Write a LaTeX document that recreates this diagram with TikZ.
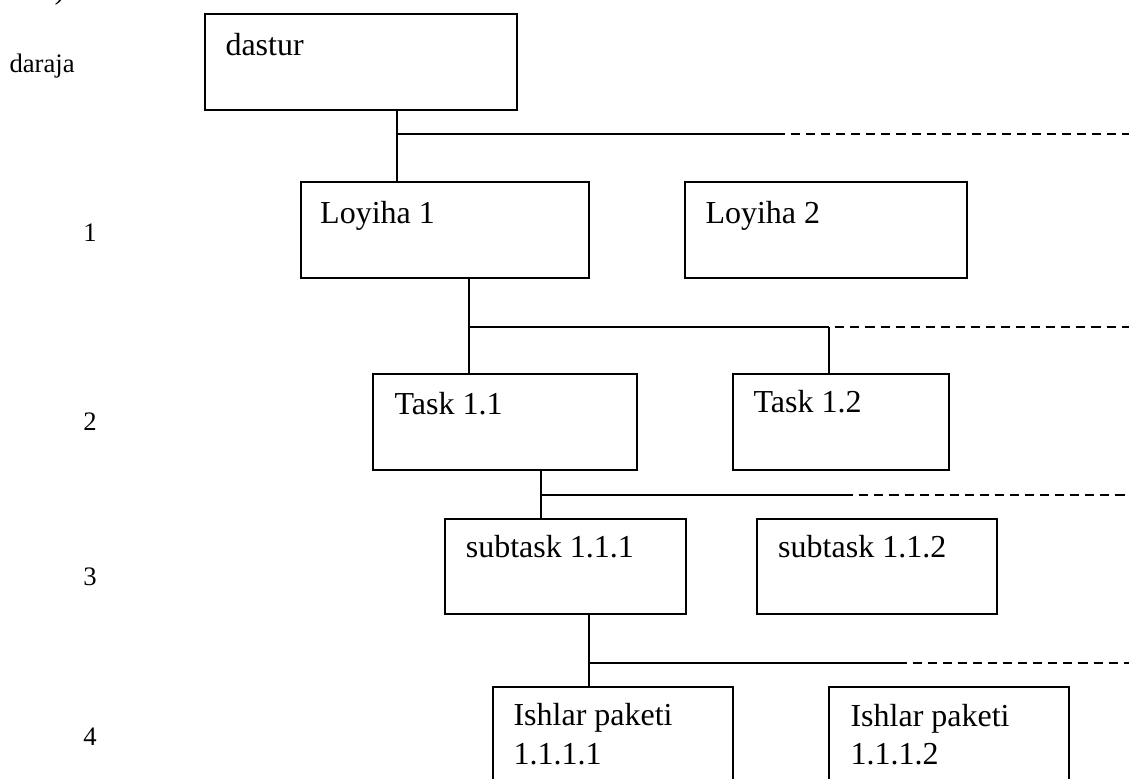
\documentclass[tikz,border=0pt]{standalone}
\usepackage{fontspec}
\setmainfont{Liberation Serif}
\usetikzlibrary{fit,calc}
\begin{document}
\begin{tikzpicture}[x=0.375pt,y=-0.375pt,
  wbs/.style={draw, line width=0.75pt, inner sep=0pt, rectangle},
  lbl/.style={anchor=base west, inner sep=0pt, font=\fontsize{12pt}{14.4pt}\selectfont},
  lvl/.style={anchor=base west, inner sep=0pt, font=\fontsize{10pt}{12pt}\selectfont},
  link/.style={line width=0.75pt},
  more/.style={line width=0.75pt, dash pattern=on 3.4pt off 2.25pt, dash phase=3.4pt}]
\useasboundingbox (0,0) rectangle (1129,778);

% tail of the heading above the chart
\node[lbl] (paren) at (54,-1.5) {)};

% level labels
\node[lvl] (lv0) at (9,72.7) {daraja};
\node[lvl, anchor=base] (lv1) at (90,241) {1};
\node[lvl, anchor=base] (lv2) at (90,430) {2};
\node[lvl, anchor=base] (lv3) at (90,585) {3};
\node[lvl, anchor=base] (lv4) at (90,745) {4};

% boxes
\node[wbs, fit={(204.7,14.3) (517,110)}] (dastur) {};
\node[lbl] (dasturt) at ($(dastur.north west)+(21.3,41.7)$) {dastur};

\node[wbs, fit={(301,182.3) (589.3,278.3)}] (loy1) {};
\node[lbl] (loy1t) at ($(loy1.north west)+(19.7,42)$) {Loyiha 1};
\node[wbs, fit={(685,182.3) (967,278.3)}] (loy2) {};
\node[lbl] (loy2t) at ($(loy2.north west)+(21,42)$) {Loyiha 2};

\node[wbs, fit={(372.7,374.3) (637,470.3)}] (t11) {};
\node[lbl] (t11t) at ($(t11.north west)+(22.3,40.7)$) {Task 1.1};
\node[wbs, fit={(732.7,374.3) (949.3,470.3)}] (t12) {};
\node[lbl] (t12t) at ($(t12.north west)+(21.3,39.5)$) {Task 1.2};

\node[wbs, fit={(444.7,518.7) (685.5,614.3)}] (s111) {};
\node[lbl] (s111t) at ($(s111.north west)+(21.6,39.6)$) {subtask 1.1.1};
\node[wbs, fit={(757,518.7) (997.3,614.3)}] (s112) {};
\node[lbl] (s112t) at ($(s112.north west)+(21.7,40)$) {subtask 1.1.2};

\node[wbs, fit={(493.3,686.7) (733.3,800)}] (w1) {};
\node[lbl] (w1a) at ($(w1.north west)+(20.7,40)$) {Ishlar paketi};
\node[lbl] (w1b) at ($(w1a.base west)+(0,38.3)$) {1.1.1.1};
\node[wbs, fit={(829.3,686.7) (1069.3,800)}] (w2) {};
\node[lbl] (w2a) at ($(w2.north west)+(21.7,40.3)$) {Ishlar paketi};
\node[lbl] (w2b) at ($(w2a.base west)+(0,38.3)$) {1.1.1.2};

% level 1 connectors
\coordinate (b1) at (397.3,134.3);
\coordinate (s1) at (785,134.3);
\coordinate (d1) at (1129,134.3);
\draw[link] (b1 |- dastur.south) -- (b1 |- loy1.north);
\draw[link] (b1) -- (s1);
\draw[more] (s1) -- (d1);

% level 2 connectors
\coordinate (b2) at (469.3,326.7);
\coordinate (c2) at (829.3,326.7);
\coordinate (d2) at (1129,326.7);
\draw[link] (b2 |- loy1.south) -- (b2 |- t11.north);
\draw[link] (b2) -- (c2);
\draw[link] (c2) -- (c2 |- t12.north);
\draw[more] (c2) -- (d2);

% level 3 connectors
\coordinate (b3) at (541.3,494.7);
\coordinate (s3) at (853.3,494.7);
\coordinate (d3) at (1129,494.7);
\draw[link] (b3 |- t11.south) -- (b3 |- s111.north);
\draw[link] (b3) -- (s3);
\draw[more] (s3) -- (d3);

% level 4 connectors
\coordinate (b4) at (589.3,662.7);
\coordinate (s4) at (906.7,662.7);
\coordinate (d4) at (1129,662.7);
\draw[link] (b4 |- s111.south) -- (b4 |- w1.north);
\draw[link] (b4) -- (s4);
\draw[more] (s4) -- (d4);
\end{tikzpicture}
\end{document}
